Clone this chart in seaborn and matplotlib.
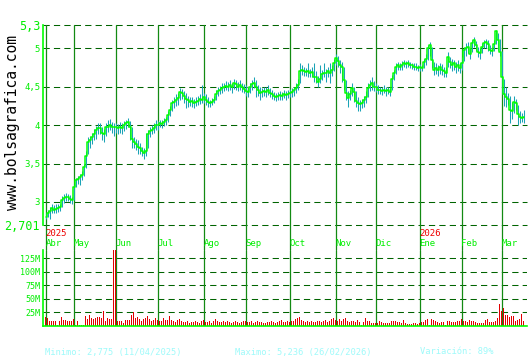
import numpy as np
import pandas as pd
import matplotlib
matplotlib.use("Agg")
import matplotlib.pyplot as plt
import matplotlib.transforms as mtransforms
import seaborn as sns

# ---------------- data ----------------
close = [
    2.80, 2.86, 2.88, 2.92, 2.90, 2.91, 2.92, 2.93, 3.02, 3.05,
    3.07, 3.06, 3.04, 3.02, 3.19, 3.28, 3.30, 3.32, 3.35, 3.45,
    3.60, 3.78, 3.80, 3.85, 3.88, 3.93, 3.96, 3.96, 3.90, 3.88,
    3.97, 3.98, 4.00, 3.98, 3.97, 3.97, 3.96, 3.98, 3.96, 4.00,
    4.02, 4.04, 3.98, 3.82, 3.78, 3.75, 3.72, 3.70, 3.66, 3.64,
    3.66, 3.88, 3.92, 3.94, 3.96, 4.00, 4.00, 4.02, 4.01, 4.04,
    4.06, 4.13, 4.20, 4.28, 4.30, 4.33, 4.35, 4.43, 4.42, 4.38,
    4.34, 4.32, 4.30, 4.31, 4.28, 4.30, 4.31, 4.34, 4.33, 4.36,
    4.32, 4.30, 4.28, 4.30, 4.32, 4.40, 4.44, 4.46, 4.48, 4.50,
    4.51, 4.50, 4.52, 4.49, 4.55, 4.53, 4.50, 4.52, 4.49, 4.47,
    4.44, 4.43, 4.50, 4.53, 4.55, 4.50, 4.46, 4.42, 4.43, 4.44,
    4.43, 4.45, 4.42, 4.40, 4.38, 4.36, 4.38, 4.39, 4.38, 4.40,
    4.39, 4.40, 4.41, 4.43, 4.45, 4.48, 4.52, 4.70, 4.72, 4.70,
    4.69, 4.70, 4.68, 4.69, 4.62, 4.63, 4.56, 4.60, 4.66, 4.68,
    4.67, 4.70, 4.68, 4.71, 4.80, 4.87, 4.83, 4.78, 4.75, 4.58,
    4.42, 4.35, 4.40, 4.48, 4.43, 4.31, 4.28, 4.27, 4.29, 4.32,
    4.36, 4.48, 4.52, 4.55, 4.50, 4.50, 4.46, 4.45, 4.44, 4.46,
    4.44, 4.45, 4.43, 4.60, 4.67, 4.75, 4.78, 4.76, 4.78, 4.80,
    4.79, 4.80, 4.78, 4.78, 4.76, 4.76, 4.74, 4.75, 4.74, 4.82,
    4.86, 5.00, 5.04, 4.85, 4.72, 4.74, 4.72, 4.75, 4.72, 4.70,
    4.68, 4.88, 4.82, 4.78, 4.80, 4.75, 4.78, 4.74, 4.80, 4.97,
    5.00, 5.01, 4.92, 5.06, 5.10, 5.04, 4.95, 4.93, 5.02, 5.07,
    5.08, 5.05, 4.98, 4.96, 5.05, 5.22, 5.10, 4.95, 4.62, 4.40,
    4.36, 4.34, 4.20, 4.18, 4.30, 4.28, 4.14, 4.10, 4.09, 4.11,
]
high = [
    2.86, 2.90, 2.93, 2.97, 2.96, 2.97, 2.97, 2.98, 3.08, 3.10,
    3.12, 3.10, 3.09, 3.06, 3.22, 3.31, 3.34, 3.36, 3.40, 3.50,
    3.66, 3.84, 3.86, 3.90, 3.95, 3.99, 4.02, 4.03, 3.98, 3.95,
    4.02, 4.06, 4.08, 4.04, 4.02, 4.03, 4.01, 4.04, 4.02, 4.05,
    4.07, 4.09, 4.05, 3.98, 3.85, 3.82, 3.80, 3.77, 3.72, 3.70,
    3.90, 3.94, 3.97, 4.00, 4.02, 4.06, 4.05, 4.07, 4.06, 4.09,
    4.10, 4.18, 4.25, 4.33, 4.36, 4.40, 4.42, 4.48, 4.47, 4.44,
    4.42, 4.38, 4.36, 4.37, 4.34, 4.36, 4.38, 4.40, 4.52, 4.42,
    4.40, 4.36, 4.33, 4.35, 4.38, 4.45, 4.49, 4.51, 4.54, 4.55,
    4.57, 4.56, 4.59, 4.55, 4.60, 4.58, 4.56, 4.58, 4.55, 4.53,
    4.52, 4.49, 4.55, 4.58, 4.62, 4.58, 4.52, 4.50, 4.48, 4.50,
    4.49, 4.52, 4.48, 4.46, 4.43, 4.41, 4.43, 4.44, 4.43, 4.45,
    4.44, 4.46, 4.47, 4.48, 4.50, 4.55, 4.60, 4.80, 4.78, 4.76,
    4.74, 4.80, 4.73, 4.75, 4.80, 4.70, 4.64, 4.78, 4.72, 4.80,
    4.73, 4.76, 4.80, 4.78, 4.86, 4.92, 4.90, 4.85, 4.82, 4.76,
    4.58, 4.44, 4.46, 4.54, 4.50, 4.44, 4.36, 4.33, 4.34, 4.38,
    4.44, 4.55, 4.58, 4.62, 4.57, 4.55, 4.52, 4.50, 4.50, 4.52,
    4.50, 4.50, 4.48, 4.65, 4.72, 4.80, 4.82, 4.81, 4.83, 4.84,
    4.83, 4.84, 4.82, 4.81, 4.80, 4.80, 4.78, 4.79, 4.78, 4.86,
    4.92, 5.04, 5.08, 5.02, 4.82, 4.80, 4.78, 4.80, 4.79, 4.76,
    4.75, 4.95, 4.88, 4.86, 4.85, 4.82, 4.84, 4.80, 4.88, 5.02,
    5.06, 5.08, 5.00, 5.10, 5.14, 5.09, 5.02, 5.00, 5.06, 5.11,
    5.12, 5.10, 5.04, 5.02, 5.10, 5.236, 5.20, 5.12, 4.96, 4.60,
    4.50, 4.42, 4.38, 4.30, 4.38, 4.34, 4.26, 4.18, 4.16, 4.20,
]
low = [
    2.78, 2.80, 2.775, 2.86, 2.86, 2.86, 2.87, 2.88, 2.94, 2.99,
    3.01, 3.01, 2.99, 2.98, 3.03, 3.20, 3.24, 3.22, 3.28, 3.34,
    3.44, 3.62, 3.70, 3.75, 3.80, 3.82, 3.89, 3.88, 3.80, 3.78,
    3.86, 3.91, 3.94, 3.90, 3.86, 3.90, 3.88, 3.90, 3.89, 3.92,
    3.95, 3.97, 3.80, 3.70, 3.70, 3.68, 3.62, 3.63, 3.60, 3.56,
    3.60, 3.70, 3.84, 3.88, 3.90, 3.93, 3.94, 3.97, 3.96, 3.99,
    4.00, 4.04, 4.12, 4.18, 4.22, 4.25, 4.26, 4.32, 4.34, 4.28,
    4.22, 4.24, 4.25, 4.24, 4.22, 4.25, 4.26, 4.27, 4.28, 4.28,
    4.26, 4.24, 4.24, 4.26, 4.28, 4.33, 4.38, 4.40, 4.42, 4.44,
    4.45, 4.44, 4.46, 4.42, 4.47, 4.46, 4.44, 4.46, 4.43, 4.41,
    4.38, 4.36, 4.42, 4.46, 4.48, 4.36, 4.38, 4.33, 4.37, 4.38,
    4.37, 4.39, 4.36, 4.34, 4.33, 4.31, 4.33, 4.33, 4.32, 4.35,
    4.33, 4.35, 4.36, 4.37, 4.38, 4.42, 4.45, 4.55, 4.65, 4.64,
    4.64, 4.63, 4.62, 4.62, 4.56, 4.55, 4.50, 4.54, 4.58, 4.62,
    4.56, 4.62, 4.55, 4.64, 4.70, 4.78, 4.76, 4.68, 4.56, 4.45,
    4.33, 4.24, 4.32, 4.38, 4.30, 4.24, 4.18, 4.18, 4.22, 4.24,
    4.28, 4.36, 4.44, 4.46, 4.44, 4.43, 4.40, 4.40, 4.39, 4.41,
    4.38, 4.40, 4.38, 4.45, 4.58, 4.66, 4.72, 4.71, 4.72, 4.75,
    4.74, 4.75, 4.74, 4.73, 4.72, 4.71, 4.70, 4.70, 4.70, 4.74,
    4.78, 4.84, 4.90, 4.74, 4.65, 4.66, 4.64, 4.66, 4.65, 4.62,
    4.62, 4.75, 4.74, 4.70, 4.72, 4.68, 4.70, 4.67, 4.72, 4.83,
    4.90, 4.94, 4.86, 4.95, 5.02, 4.96, 4.88, 4.86, 4.94, 5.00,
    5.00, 4.96, 4.92, 4.90, 4.96, 5.05, 4.98, 4.90, 4.40, 4.25,
    4.24, 4.26, 4.02, 4.08, 4.16, 4.20, 4.00, 4.02, 4.04, 4.02,
]
volume_m = [
    17, 15, 9, 9, 9, 9, 2, 9, 17, 11,
    11, 9, 9, 9, 13, 2, 9, 2, 2, 2,
    18, 13, 20, 15, 13, 15, 17, 17, 15, 28,
    9, 15, 13, 13, 150, 150, 9, 9, 9, 5,
    11, 11, 11, 20, 26, 15, 17, 13, 9, 13,
    15, 18, 13, 9, 11, 15, 11, 9, 9, 15,
    11, 11, 18, 11, 9, 7, 11, 13, 9, 8,
    7, 9, 6, 8, 7, 9, 8, 6, 9, 11,
    7, 8, 9, 6, 10, 12, 9, 8, 7, 9,
    8, 10, 7, 6, 8, 9, 7, 5, 8, 9,
    10, 7, 8, 9, 6, 7, 9, 8, 7, 5,
    6, 8, 7, 9, 8, 6, 7, 9, 11, 8,
    7, 9, 8, 10, 9, 12, 14, 16, 11, 9,
    8, 10, 7, 9, 8, 7, 9, 10, 8, 9,
    11, 8, 10, 12, 14, 11, 9, 12, 10, 13,
    15, 10, 8, 9, 9, 7, 11, 8, 2, 8,
    15, 9, 9, 6, 6, 6, 5, 9, 8, 5,
    5, 5, 5, 9, 9, 9, 8, 8, 5, 11,
    5, 3, 3, 3, 5, 5, 3, 5, 8, 7,
    11, 13, 2, 13, 11, 9, 8, 6, 7, 7,
    2, 9, 9, 7, 7, 8, 9, 9, 13, 9,
    9, 7, 11, 9, 9, 8, 5, 5, 5, 5,
    11, 13, 7, 7, 7, 9, 15, 40, 28, 34,
    20, 20, 17, 18, 18, 9, 11, 13, 22, 9,
]
first_day = "2025-04-09"
holidays = ["2025-04-18", "2025-04-21", "2025-05-01", "2025-12-25", "2026-01-01"]
month_labels = ["Abr", "May", "Jun", "Jul", "Ago", "Sep", "Oct", "Nov", "Dic", "Ene", "Feb", "Mar"]
year_labels = ["2025", "2026"]
year_months = ["Abr", "Ene"]
price_ticks = [5.3, 5.0, 4.5, 4.0, 3.5, 3.0, 2.701]
price_tick_labels = ["5,3", "5", "4,5", "4", "3,5", "3", "2,701"]
vol_ticks = [25, 50, 75, 100, 125]
vol_tick_labels = ["25M", "50M", "75M", "100M", "125M"]
footer = ["Minimo: 2,775 (11/04/2025)", "Maximo: 5,236 (26/02/2026)", "Variación: 89%"]
watermark = "www.bolsagrafica.com"

# ---------------- styling ----------------
sns.set_style("white")
plt.rcParams["font.family"] = ["DejaVu Sans Mono", "DejaVu Sans"]

GREEN_TXT = "#00ee00"
GRID = "#006400"
MONTH = "#138a13"
TEAL = "#1aa3b6"
LINE = "#00ff00"
RED = "#e00000"

n = len(close)
idx = np.arange(n)
days = pd.bdate_range(first_day, periods=n + 20)
days = days[~days.isin(pd.to_datetime(holidays))][:n]
month_start = [i for i in range(n) if i == 0 or days[i].month != days[i - 1].month]

df = pd.DataFrame({"i": idx, "close": close, "high": high, "low": low, "vol": volume_m})

fig = plt.figure(figsize=(5.3, 3.6), dpi=100)
W, H = 530.0, 360.0
ax = fig.add_axes([43 / W, 1 - 225 / H, 484 / W, 200 / H])
axv = fig.add_axes([43 / W, 1 - 326 / H, 484 / W, 76 / H])
XLIM = (-1.25, 240.75)   # puts each trading day on a pixel centre (2 px / day)

dash = (0, (6, 4))
GLW = 0.75

# ---- price panel ----
for y in price_ticks:
    ax.axhline(y, color=GRID, lw=GLW, ls=dash, zorder=1, clip_on=False)
for m in month_start:
    ax.axvline(m, ymin=-0.13, ymax=1, color=MONTH, lw=0.9, zorder=1.5, clip_on=False)

ax.vlines(df["i"], df["low"], df["high"], color=TEAL, lw=0.75, zorder=2)
sns.lineplot(data=df, x="i", y="close", ax=ax, color=LINE, lw=1.1,
             drawstyle="steps-mid", zorder=3)

ax.set_xlim(*XLIM)
ax.set_ylim(2.701, 5.3)
ax.set_xlabel("")
ax.set_ylabel("")
ax.set_xticks([])
ax.set_yticks(price_ticks)
ax.set_yticklabels(price_tick_labels)
for lbl in ax.get_yticklabels():
    big = lbl.get_text() in ("5,3", "2,701")
    lbl.set_fontsize(8.5 if big else 6.5)
    lbl.set_color(GREEN_TXT)
ax.tick_params(axis="y", length=0, pad=2)
for s in ("top", "right", "bottom"):
    ax.spines[s].set_visible(False)
ax.spines["left"].set_color(LINE)
ax.spines["left"].set_linewidth(1.2)
ax.set_facecolor("white")

trans = mtransforms.blended_transform_factory(ax.transData, ax.transAxes)
for m, lab in zip(month_start, month_labels):
    ax.text(m, -0.09, lab, transform=trans, ha="left", va="center",
            fontsize=6.5, color=GREEN_TXT)
for yl, ym in zip(year_labels, year_months):
    m = month_start[month_labels.index(ym)]
    ax.text(m, -0.045, yl, transform=trans, ha="left", va="center",
            fontsize=6.5, color="#ee0000")

# ---- volume panel ----
for y in vol_ticks:
    axv.axhline(y, color=GRID, lw=GLW, ls=dash, zorder=1)
for m in month_start:
    axv.axvline(m, color=MONTH, lw=0.9, zorder=1.5)
sns.barplot(data=df, x="i", y="vol", ax=axv, native_scale=True, width=0.5,
            color=RED, saturation=1, errorbar=None, linewidth=0, zorder=2)
for p in axv.patches:
    p.set_facecolor(RED)
    p.set_edgecolor("none")
    p.set_alpha(1)
    p.set_zorder(2)
axv.set_xlim(*XLIM)
axv.set_ylim(0, 140)
axv.set_xlabel("")
axv.set_ylabel("")
axv.set_xticks([])
axv.set_yticks(vol_ticks)
axv.set_yticklabels(vol_tick_labels)
for lbl in axv.get_yticklabels():
    lbl.set_fontsize(6)
    lbl.set_color(GREEN_TXT)
axv.tick_params(axis="y", length=0, pad=2)
for s in ("top", "right"):
    axv.spines[s].set_visible(False)
for s in ("left", "bottom"):
    axv.spines[s].set_color(LINE)
    axv.spines[s].set_linewidth(1.2)
    axv.spines[s].set_zorder(3)

# ---- texts ----
fig.text(13 / W, 1 - 122 / H, watermark, rotation=90, ha="center", va="center",
         fontsize=10.5, color="black")
fx = [45, 235, 420]
for x, t in zip(fx, footer):
    fig.text(x / W, 1 - 352 / H, t, ha="left", va="center", fontsize=6.3,
             color="#9ffafa")

fig.savefig("out.png", dpi=100)
